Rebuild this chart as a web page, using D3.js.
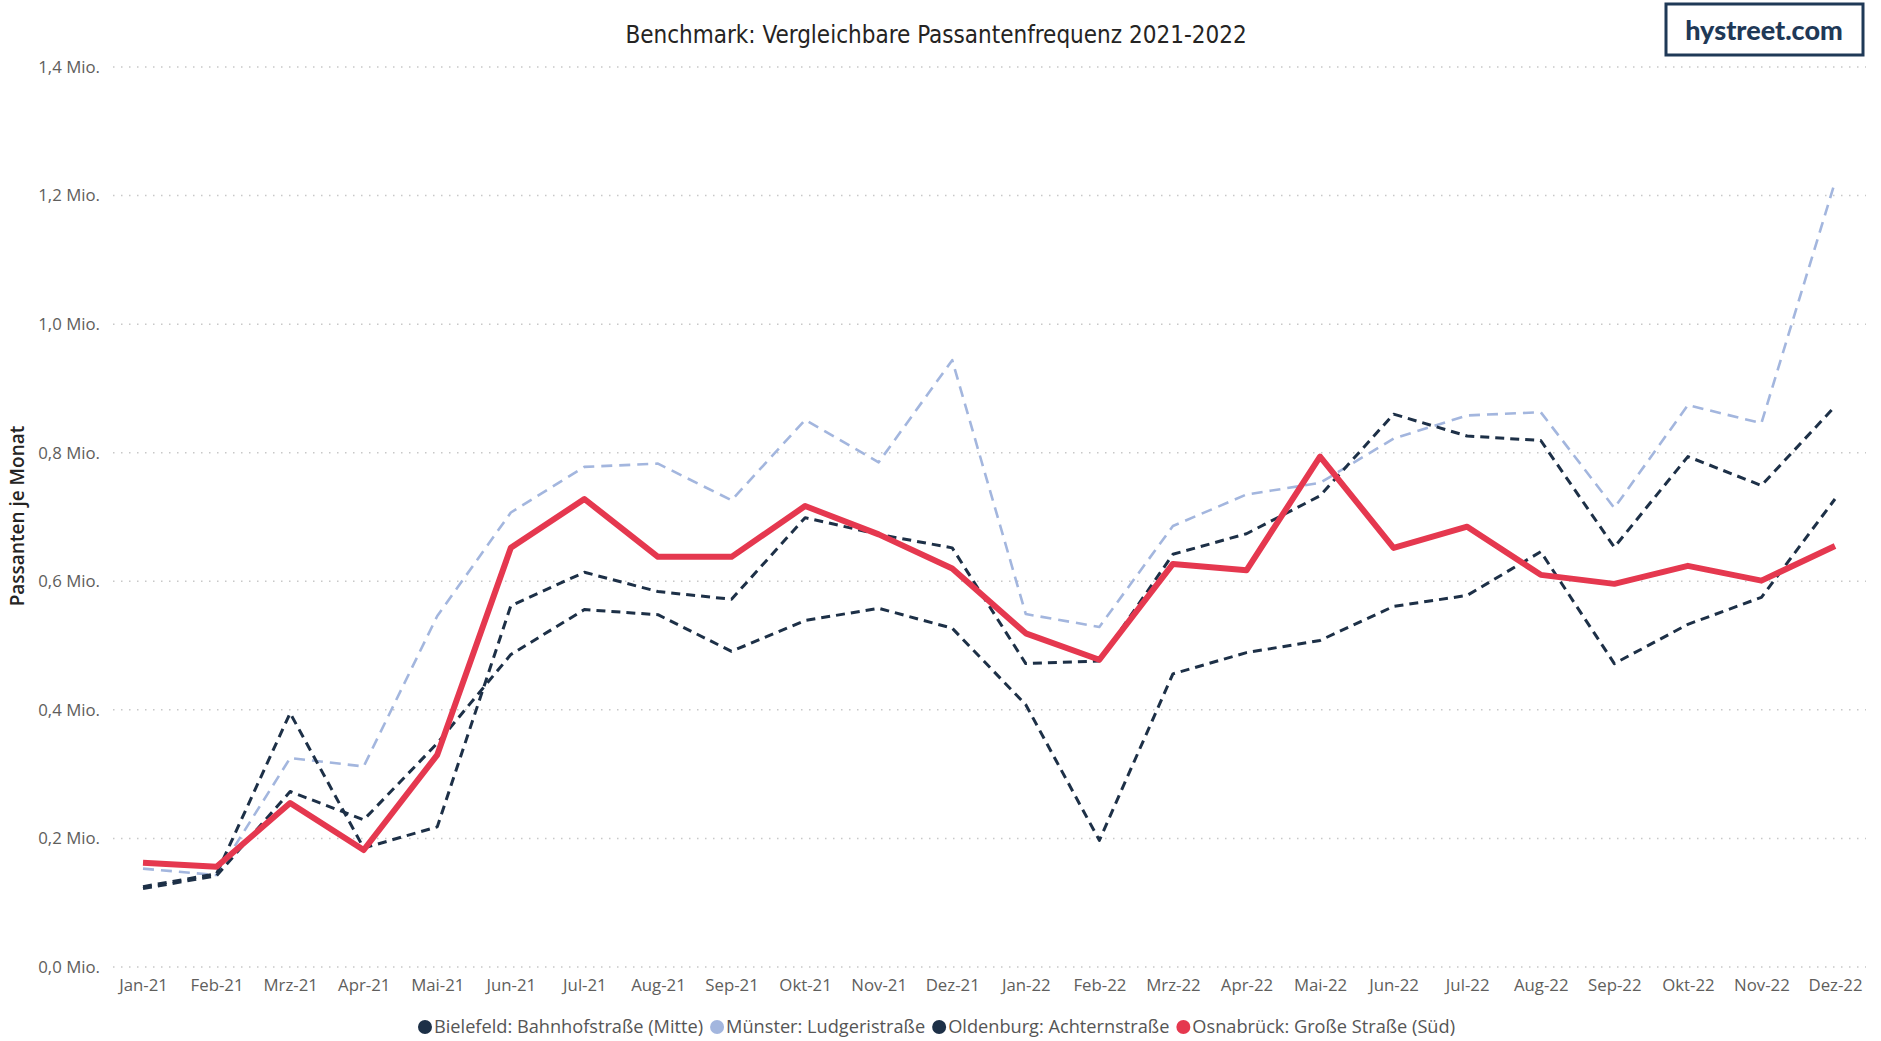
<!DOCTYPE html>
<html>
<head>
<meta charset="utf-8">
<script src="https://cdn.jsdelivr.net/npm/d3@7"></script>
<style>
  body { margin: 0; background: #fff; }
  .axis text { font-family: "Open Sans", sans-serif; font-size: 16.8px; fill: #605e5c; }
</style>
</head>
<body>
<script>
var months = ["Jan-21", "Feb-21", "Mrz-21", "Apr-21", "Mai-21", "Jun-21", "Jul-21", "Aug-21", "Sep-21", "Okt-21", "Nov-21", "Dez-21",
              "Jan-22", "Feb-22", "Mrz-22", "Apr-22", "Mai-22", "Jun-22", "Jul-22", "Aug-22", "Sep-22", "Okt-22", "Nov-22", "Dez-22"];

// Mio. Passanten je Monat
var bielefeld = [0.125, 0.145, 0.395, 0.185, 0.218, 0.562, 0.614, 0.584, 0.572, 0.699, 0.673, 0.652,
                 0.472, 0.476, 0.642, 0.674, 0.733, 0.860, 0.826, 0.819, 0.653, 0.794, 0.749, 0.872];
var muenster = [0.153, 0.143, 0.325, 0.312, 0.546, 0.707, 0.778, 0.783, 0.726, 0.851, 0.785, 0.944,
                0.549, 0.529, 0.686, 0.735, 0.753, 0.822, 0.858, 0.863, 0.714, 0.874, 0.846, 1.221];
var oldenburg = [0.122, 0.142, 0.273, 0.229, 0.348, 0.486, 0.556, 0.548, 0.491, 0.539, 0.558, 0.527,
                 0.408, 0.197, 0.456, 0.489, 0.508, 0.561, 0.578, 0.646, 0.472, 0.533, 0.575, 0.728];
var osnabrueck = [0.162, 0.156, 0.255, 0.182, 0.330, 0.652, 0.728, 0.638, 0.638, 0.717, 0.673, 0.620,
                  0.519, 0.478, 0.627, 0.617, 0.794, 0.652, 0.685, 0.610, 0.596, 0.624, 0.601, 0.655];

var yTicks = [0, 0.2, 0.4, 0.6, 0.8, 1.0, 1.2, 1.4];

var seriesNames = ["Bielefeld: Bahnhofstraße (Mitte)", "Münster: Ludgeristraße", "Oldenburg: Achternstraße", "Osnabrück: Große Straße (Süd)"];
var seriesValues = [bielefeld, muenster, oldenburg, osnabrueck];

var colors = ["#1d3047", "#a3b6de", "#1d3047", "#e5384f"];
var widths = [3, 2.6, 3, 6];
var dashes = ["9,6", "11,7", "9,6", null];
var drawOrder = [1, 0, 2, 3];

var svg = d3.select("body").append("svg")
    .attr("width", 1881)
    .attr("height", 1041);

var x = d3.scalePoint()
    .domain(months)
    .range([143, 1835]);

var y = d3.scaleLinear()
    .domain([0, 1.4])
    .range([967, 67]);

// gridlines
svg.append("g")
    .selectAll("line")
    .data(yTicks)
    .enter().append("line")
      .attr("x1", 113)
      .attr("x2", 1866)
      .attr("y1", function(d) { return y(d); })
      .attr("y2", function(d) { return y(d); })
      .attr("stroke", "#c8c8c8")
      .attr("stroke-width", 1.5)
      .attr("stroke-dasharray", "1.5,6.5");

var fmt = d3.format(".1f");

svg.append("g")
    .attr("class", "axis")
    .attr("transform", "translate(113,0)")
    .call(d3.axisLeft(y).tickValues(yTicks).tickSize(0).tickPadding(13)
      .tickFormat(function(d) { return fmt(d).replace(".", ",") + " Mio."; }))
    .call(function(g) { g.select(".domain").remove(); });

svg.append("g")
    .attr("class", "axis")
    .attr("transform", "translate(0,967)")
    .call(d3.axisBottom(x).tickSize(0).tickPadding(12))
    .call(function(g) { g.select(".domain").remove(); });

var line = d3.line()
    .x(function(d, i) { return x(months[i]); })
    .y(function(d) { return y(d); });

svg.append("g")
    .selectAll("path")
    .data(drawOrder)
    .enter().append("path")
      .attr("d", function(k) { return line(seriesValues[k]); })
      .attr("fill", "none")
      .attr("stroke", function(k) { return colors[k]; })
      .attr("stroke-width", function(k) { return widths[k]; })
      .attr("stroke-dasharray", function(k) { return dashes[k]; })
      .attr("stroke-linejoin", "round");

// title
svg.append("text")
    .attr("x", 936)
    .attr("y", 43)
    .attr("text-anchor", "middle")
    .style("font-family", "'DejaVu Sans Condensed', sans-serif")
    .style("font-size", "24px")
    .style("fill", "#252423")
    .text("Benchmark: Vergleichbare Passantenfrequenz 2021-2022");

// y axis title
svg.append("text")
    .attr("transform", "translate(24,516) rotate(-90)")
    .attr("text-anchor", "middle")
    .style("font-family", "'Open Sans', sans-serif")
    .style("font-size", "19px")
    .style("font-weight", "600")
    .style("fill", "#252423")
    .text("Passanten je Monat");

// logo
svg.append("rect")
    .attr("x", 1666)
    .attr("y", 4)
    .attr("width", 197)
    .attr("height", 51)
    .attr("fill", "none")
    .attr("stroke", "#1f3957")
    .attr("stroke-width", 3);

svg.append("text")
    .attr("x", 1764)
    .attr("y", 40)
    .attr("text-anchor", "middle")
    .style("font-family", "Lato, sans-serif")
    .style("font-size", "27px")
    .style("font-weight", "900")
    .style("fill", "#1f3957")
    .text("hystreet.com");

// legend
var legend = svg.append("g");
var lx = 0;
seriesNames.forEach(function(name, i) {
  var item = legend.append("g").attr("transform", "translate(" + lx + ",0)");
  item.append("circle")
      .attr("cx", 7)
      .attr("cy", 0)
      .attr("r", 7)
      .attr("fill", colors[i]);
  var t = item.append("text")
      .attr("x", 16)
      .attr("dy", "0.35em")
      .style("font-family", "'Open Sans', sans-serif")
      .style("font-size", "18.2px")
      .style("fill", "#555")
      .text(name);
  lx += 16 + t.node().getComputedTextLength() + 7;
});
legend.attr("transform", "translate(" + (940 - lx / 2) + ",1027)");
</script>
</body>
</html>
